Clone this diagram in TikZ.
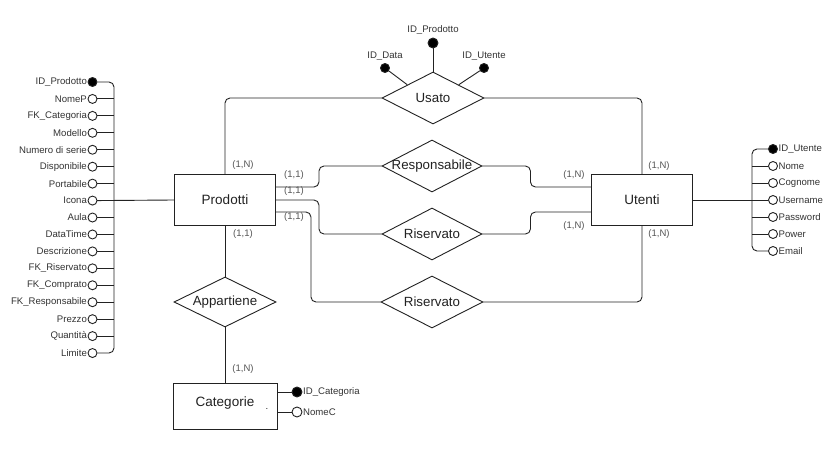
\documentclass[tikz,border=0pt]{standalone}
\usepackage{fontspec}
\setmainfont{Liberation Sans}
\usetikzlibrary{shapes.geometric}
\definecolor{ink}{HTML}{222222}
\definecolor{attrink}{HTML}{333333}
\definecolor{cardink}{HTML}{555555}
\tikzset{
  entity/.style={draw=ink, line width=0.9pt, rectangle, minimum width=101pt, minimum height=51pt,
    inner sep=0pt, text=ink, font=\fontsize{13.5}{15}\selectfont},
  rel/.style={draw=ink, line width=0.9pt, diamond, minimum width=102pt, minimum height=52pt,
    inner sep=0pt, fill=white},
  reltext/.style={text=ink, inner sep=0pt, font=\fontsize{13.3}{15}\selectfont},
  attr/.style={draw=ink, line width=0.9pt, circle, minimum size=9pt, inner sep=0pt, fill=white},
  keyattr/.style={attr, fill=black},
  atxt/.style={text=attrink, inner sep=0.5pt, font=\fontsize{9.6}{11}\selectfont},
  card/.style={text=cardink, inner sep=0pt, font=\fontsize{9.5}{11}\selectfont},
  conn/.style={draw=ink, line width=0.9pt, rounded corners=5pt},
}
\begin{document}
\begin{tikzpicture}[x=1pt, y=-1pt]
\useasboundingbox[fill=white] (0,0) rectangle (828,449);

% entities
\node[entity] (P) at (225,200) {Prodotti};
\node[entity] (U) at (642,200) {Utenti};
\node[entity, minimum width=104pt, minimum height=46pt] (C) at (225,406) {};
\node[entity, draw=none] (Ctext) at (225,403) {Categorie};
\node[card, text=ink] (Cdot) at (267,409) {.};

% relationships
\node[rel] (Usato) at (433,98) {};
\node[reltext] (UsatoT) at (Usato) {Usato};
\node[rel, minimum width=100pt] (Resp) at (432,166) {};
\node[reltext] (RespT) at (Resp) {Responsabile};
\node[rel, minimum width=100pt] (Ris1) at (432,234) {};
\node[reltext] (Ris1T) at (Ris1) {Riservato};
\node[rel] (Ris2) at (432,302) {};
\node[reltext] (Ris2T) at (Ris2) {Riservato};
\node[rel, minimum height=50pt] (App) at (225,302) {};
\node[reltext] (AppT) at (App) {Appartiene};

% attributes of Usato
\node[keyattr, minimum size=10pt] (uprod) at (433,43) {};
\node[keyattr] (udata) at (385,68) {};
\node[keyattr] (uut) at (484,68) {};
\node[atxt] (uprodT) at (433,30) {ID\_Prodotto};
\node[atxt] (udataT) at (385,56) {ID\_Data};
\node[atxt] (uutT) at (484,56) {ID\_Utente};
\draw[conn] (uprod) -- (Usato.north);
\draw[conn] (udata) -- (Usato.north west);
\draw[conn] (uut) -- (Usato.north east);

% connectors
\draw[conn] (Usato.west) -| (P.north);
\draw[conn] (Usato.east) -| (U.north);
\draw[conn] ([yshift=13pt]P.east) -- ++(43,0) |- (Resp.west);
\draw[conn] (Resp.east) -- ++(48,0) |- ([yshift=13pt]U.west);
\draw[conn] (P.east) -- ++(43,0) |- (Ris1.west);
\draw[conn] (Ris1.east) -- ++(48,0) |- ([yshift=-12pt]U.west);
\draw[conn] ([yshift=-12pt]P.east) -- ++(35,0) |- (Ris2.west);
\draw[conn] (Ris2.east) -| (U.south);
\draw[conn] (P.south) -- (App.north);
\draw[conn] (App.south) -- (C.north);

% cardinalities
\node[card] (c1) at (243,165) {(1,N)};
\node[card] (c2) at (294,175) {(1,1)};
\node[card] (c3) at (294,191) {(1,1)};
\node[card] (c4) at (294,217) {(1,1)};
\node[card] (c5) at (243,234) {(1,1)};
\node[card] (c6) at (574,175) {(1,N)};
\node[card] (c7) at (574,226) {(1,N)};
\node[card] (c8) at (659,166) {(1,N)};
\node[card] (c9) at (659,234) {(1,N)};
\node[card] (c10) at (243,369) {(1,N)};

% attributes of Prodotti
\coordinate (lbus) at (114,200);
\foreach \t [count=\i] in {ID\_Prodotto, NomeP, FK\_Categoria, Modello, Numero di serie,
    Disponibile, Portabile, Icona, Aula, DataTime, Descrizione, FK\_Riservato,
    FK\_Comprato, FK\_Responsabile, Prezzo, Quantità, Limite} {
  \ifnum\i=1
    \node[keyattr, label={[atxt, label distance=0pt]left:\t}] (pa\i) at (92.5,{82+16.94*(\i-1)}) {};
  \else
    \node[attr, label={[atxt, label distance=0pt]left:\t}] (pa\i) at (92.5,{82+16.94*(\i-1)}) {};
  \fi
}
\draw[conn] (pa1.east) -- (pa1.east -| lbus) -- (pa17.east -| lbus) -- (pa17.east);
\foreach \i in {2,...,16} {
  \draw[conn] (pa\i.east) -- (pa\i.east -| lbus);
}
\draw[conn] (pa8.east) -- (P.west);

% attributes of Utenti
\coordinate (rbus) at (752,200);
\foreach \t [count=\i] in {ID\_Utente, Nome, Cognome, Username, Password, Power, Email} {
  \ifnum\i=1
    \node[keyattr, label={[atxt, label distance=0pt]right:\t}] (ua\i) at (773,{149+17*(\i-1)}) {};
  \else
    \node[attr, label={[atxt, label distance=0pt]right:\t}] (ua\i) at (773,{149+17*(\i-1)}) {};
  \fi
}
\draw[conn] (ua1.west) -- (ua1.west -| rbus) -- (ua7.west -| rbus) -- (ua7.west);
\foreach \i in {2,...,6} {
  \draw[conn] (ua\i.west) -- (ua\i.west -| rbus);
}
\draw[conn] (U.east) -- (ua4.west);

% attributes of Categorie
\node[keyattr, minimum size=10pt, label={[atxt, label distance=0pt]right:ID\_Categoria}] (ca1) at (297,392) {};
\node[attr, minimum size=10pt, label={[atxt, label distance=0pt]right:NomeC}] (ca2) at (297,412) {};
\draw[conn] (ca1.west) -- (ca1.west -| C.east);
\draw[conn] (ca2.west) -- (ca2.west -| C.east);
\end{tikzpicture}
\end{document}
